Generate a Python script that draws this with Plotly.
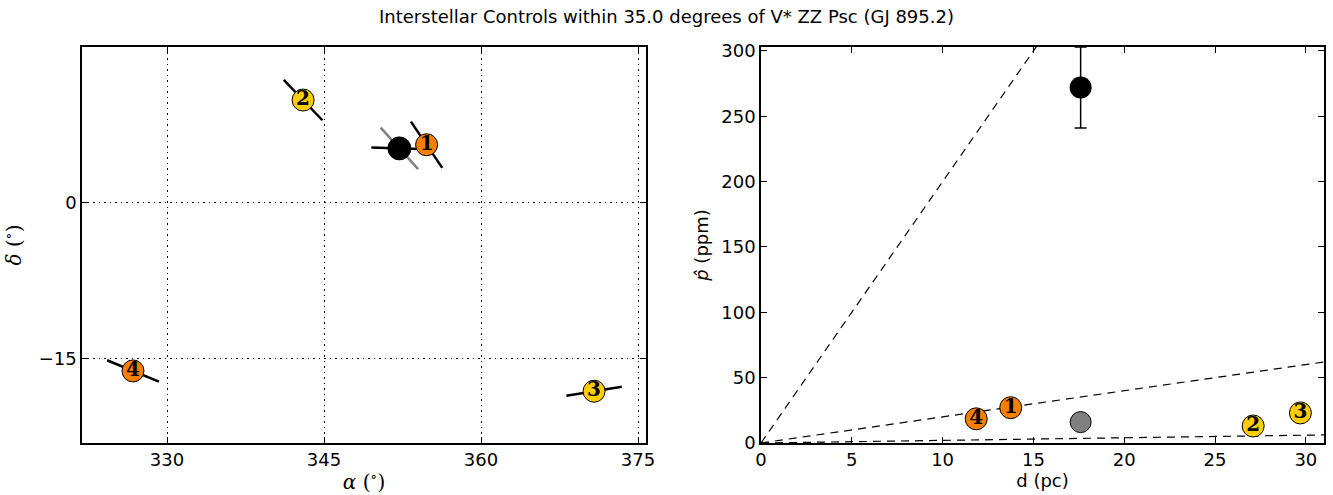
import numpy as np
import plotly.graph_objects as go

# ---- data ----
labels = ["1", "2", "3", "4"]
ra = [354.8, 343.0, 370.8, 326.75]
dec = [5.6, 9.9, -18.1, -16.15]
dist = [13.75, 27.1, 29.7, 11.85]
pol = [27.0, 13.0, 23.0, 18.5]
star_colors = ["#F77F00", "#FFCC00", "#FFCC00", "#F77F00"]
vec_angle = [-56.0, -46.5, 9.3, -22.5]

target_ra = 352.2
target_dec = 5.25
target_dist = 17.6
target_pol = 272.0
target_err = 31.0
target_pol_ism = 16.0
target_vec_angle = -2.0
target_ism_angle = -48.0

vec_half = 2.68
ref_slopes = [0.2, 2.0, 20.0]

title = "Interstellar Controls within 35.0 degrees of V* ZZ Psc (GJ 895.2)"

W, H = 1333, 495
def px(x):
    return x / W
def py(y):
    return 1 - y / H

fig = go.Figure()

def seg(x0, y0, ang, half):
    a = np.deg2rad(ang)
    return [x0 - half * np.cos(a), x0 + half * np.cos(a)], [y0 - half * np.sin(a), y0 + half * np.sin(a)]

# left: polarization vectors
sx, sy = seg(target_ra, target_dec, target_ism_angle, vec_half)
fig.add_trace(go.Scatter(x=sx, y=sy, mode="lines", line=dict(color="#808080", width=2.5),
                         xaxis="x", yaxis="y", showlegend=False, hoverinfo="skip"))
sx, sy = seg(target_ra, target_dec, target_vec_angle, vec_half)
fig.add_trace(go.Scatter(x=sx, y=sy, mode="lines", line=dict(color="black", width=2.5),
                         xaxis="x", yaxis="y", showlegend=False, hoverinfo="skip"))
for i in range(len(labels)):
    sx, sy = seg(ra[i], dec[i], vec_angle[i], vec_half)
    fig.add_trace(go.Scatter(x=sx, y=sy, mode="lines", line=dict(color="black", width=2.5),
                             xaxis="x", yaxis="y", showlegend=False, hoverinfo="skip"))

fig.add_trace(go.Scatter(x=[target_ra], y=[target_dec], mode="markers",
                         marker=dict(size=23, color="black", line=dict(color="black", width=1)),
                         xaxis="x", yaxis="y", showlegend=False))

numfont = dict(family="DejaVu Serif", size=20, color="black", weight="bold")
fig.add_trace(go.Scatter(x=ra, y=dec, mode="markers+text", text=labels,
                         textposition="middle center", textfont=numfont,
                         marker=dict(size=22, color=star_colors, line=dict(color="black", width=1)),
                         xaxis="x", yaxis="y", showlegend=False))

# right: reference lines
xmax = 31.0
for s in ref_slopes:
    fig.add_trace(go.Scatter(x=[0, xmax], y=[0, s * xmax], mode="lines",
                             line=dict(color="black", width=1.2, dash="8px,6px"),
                             xaxis="x2", yaxis="y2", showlegend=False, hoverinfo="skip"))

fig.add_trace(go.Scatter(x=[target_dist], y=[target_pol], mode="markers",
                         marker=dict(size=22, color="black"),
                         error_y=dict(type="data", array=[target_err], color="black", thickness=1.5, width=6),
                         xaxis="x2", yaxis="y2", showlegend=False))
fig.add_trace(go.Scatter(x=[target_dist], y=[target_pol_ism], mode="markers",
                         marker=dict(size=21, color="#808080", line=dict(color="black", width=1)),
                         xaxis="x2", yaxis="y2", showlegend=False))
fig.add_trace(go.Scatter(x=dist, y=pol, mode="markers+text", text=labels,
                         textposition="middle center", textfont=numfont,
                         marker=dict(size=22, color=star_colors, line=dict(color="black", width=1)),
                         xaxis="x2", yaxis="y2", showlegend=False))

tickfont = dict(family="DejaVu Sans", size=18, color="black")
common = dict(showline=True, linecolor="black", linewidth=1.5, mirror="ticks",
              ticks="inside", ticklen=6, tickwidth=1, tickcolor="black",
              tickfont=tickfont, zeroline=False, automargin=False)

fig.update_layout(
    width=W, height=H, autosize=False,
    margin=dict(l=0, r=0, t=0, b=0),
    plot_bgcolor="white", paper_bgcolor="white",
    title=dict(text=title, x=0.5, xanchor="center", y=py(17), yanchor="middle",
               font=dict(family="DejaVu Sans", size=18, color="black")),
    xaxis=dict(domain=[px(82), px(646)], range=[321.88, 375.76],
               tickvals=[330, 345, 360, 375], showgrid=True, gridcolor="black",
               griddash="1.5px,4px", gridwidth=1,
               title=dict(text="<i>α</i> (<sup>∘</sup>)", standoff=6,
                          font=dict(family="DejaVu Serif", size=20, color="black")),
               anchor="y", **common),
    yaxis=dict(domain=[py(443), py(47)], range=[-23.08, 15.0],
               tickvals=[-15, 0], showgrid=True, gridcolor="black",
               griddash="1.5px,4px", gridwidth=1,
               title=dict(text="<i>δ</i> (<sup>∘</sup>)", standoff=14,
                          font=dict(family="DejaVu Serif", size=20, color="black")),
               anchor="x", **common),
    xaxis2=dict(domain=[px(761), px(1324)], range=[0, 31.0],
                tickvals=[0, 5, 10, 15, 20, 25, 30], showgrid=False,
                title=dict(text="d (pc)", standoff=4,
                           font=dict(family="DejaVu Sans", size=18, color="black")),
                anchor="y2", **common),
    yaxis2=dict(domain=[py(443), py(47)], range=[0, 303.0],
                tickvals=[0, 50, 100, 150, 200, 250, 300], showgrid=False,
                title=dict(text="<i>p̂</i> (ppm)", standoff=8,
                           font=dict(family="DejaVu Sans", size=18, color="black")),
                anchor="x2", **common),
)

fig.write_html("out.html")
